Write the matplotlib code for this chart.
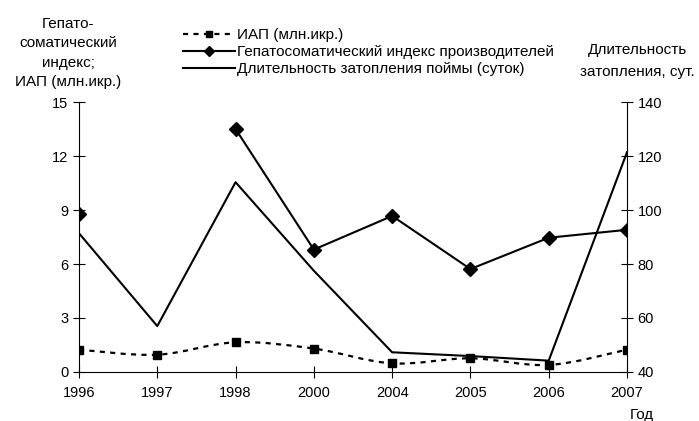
import numpy as np
import matplotlib
matplotlib.use('Agg')
import matplotlib.pyplot as plt
from matplotlib.path import Path
from matplotlib.patches import PathPatch
from matplotlib.lines import Line2D

plt.rcParams['font.family'] = ['Liberation Sans', 'DejaVu Sans']
plt.rcParams['font.size'] = 11

years = ['1996', '1997', '1998', '2000', '2004', '2005', '2006', '2007']
iap = [1.24, 0.96, 1.65, 1.3, 0.48, 0.76, 0.39, 1.24]
hsi = [8.8, np.nan, 13.5, 6.8, 8.67, 5.72, 7.46, 7.9]
flood = [91.4, 57.0, 110.3, 77.5, 47.3, 45.9, 44.2, 121.4]

x = np.arange(len(years))

fig = plt.figure(figsize=(6.99, 4.21), dpi=100)
ax = fig.add_axes([0.113, 0.1164, 0.784, 0.6413])
ax2 = ax.twinx()

# smoothed dashed line for ИАП (catmull-rom as bezier segments)
pts = np.column_stack([x, iap])
verts = [pts[0]]
codes = [Path.MOVETO]
for i in range(len(pts) - 1):
    p0 = pts[max(i - 1, 0)]
    p1 = pts[i]
    p2 = pts[i + 1]
    p3 = pts[min(i + 2, len(pts) - 1)]
    verts += [p1 + (p2 - p0) / 6, p2 - (p3 - p1) / 6, p2]
    codes += [Path.CURVE4] * 3
ls_iap = (0, (2.3, 2.4))
ax.add_patch(PathPatch(Path(verts, codes), fill=False, edgecolor='k',
                       lw=1.6, linestyle=ls_iap, zorder=3))
ax.plot(x, iap, ls='none', marker='s', ms=6, color='k', zorder=4)

ax.plot(x, hsi, color='k', lw=1.5, marker='D', ms=7.5, zorder=4)
ax2.plot(x, flood, color='k', lw=1.5, zorder=3)

ax.set_xlim(0, 7)
ax.set_ylim(0, 15)
ax.set_yticks(np.arange(0, 16, 3))
ax2.set_ylim(40, 140)
ax2.set_yticks(np.arange(40, 141, 20))
ax.set_xticks(x)
ax.set_xticklabels(years)

for s in ['top', 'right']:
    ax.spines[s].set_visible(False)
for s in ['top', 'left', 'bottom']:
    ax2.spines[s].set_visible(False)
for a in (ax, ax2):
    for s in a.spines.values():
        s.set_linewidth(0.8)
ax.tick_params(axis='both', direction='inout', length=8, width=0.8, labelsize=10.5)
ax.tick_params(axis='x', pad=6)
ax2.tick_params(axis='y', direction='inout', length=8, width=0.8, labelsize=10.5)

fig.text(68 / 699, 1 - 53 / 421, 'Гепато-\nсоматический\nиндекс;\nИАП (млн.икр.)',
         ha='center', va='center', fontsize=11, linespacing=1.5)
fig.text(637 / 699, 1 - 61 / 421, 'Длительность\nзатопления, сут.',
         ha='center', va='center', fontsize=11, linespacing=1.7)
fig.text(642 / 699, 1 - 415 / 421, 'Год', ha='center', va='center', fontsize=11)

handles = [
    Line2D([], [], color='k', lw=1.6, linestyle=ls_iap, marker='s', ms=4),
    Line2D([], [], color='k', lw=1.5, marker='D', ms=5),
    Line2D([], [], color='k', lw=1.5),
]
labels = ['ИАП (млн.икр.)', 'Гепатосоматический индекс производителей',
          'Длительность затопления поймы (суток)']
fig.legend(handles, labels, loc='center left', bbox_to_anchor=(183 / 699, 1 - 52 / 421),
           frameon=False, fontsize=11, handlelength=3.4, handletextpad=0.15,
           borderpad=0, borderaxespad=0, labelspacing=0.2, numpoints=1)

fig.savefig('out.png', dpi=100)
